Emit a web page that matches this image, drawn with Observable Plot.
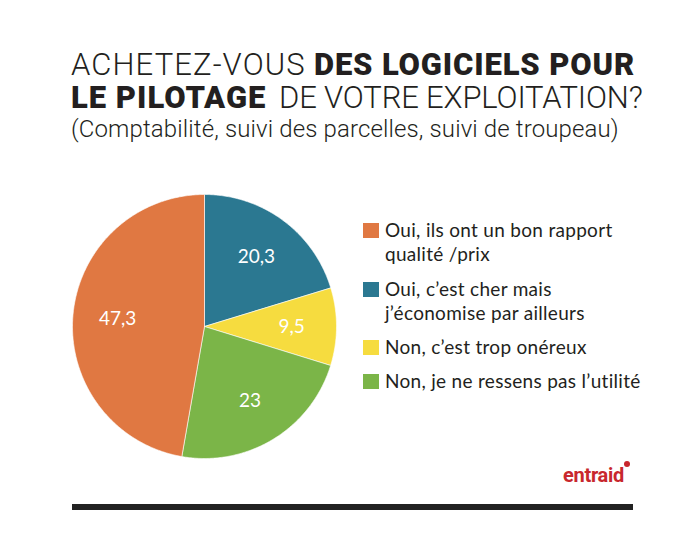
<!DOCTYPE html>
<html>
<head>
<meta charset="utf-8">
<script src="https://cdn.jsdelivr.net/npm/d3@7"></script>
<script src="https://cdn.jsdelivr.net/npm/@observablehq/plot@0.6"></script>
<style>
  html, body { margin: 0; padding: 0; background: #fff; }
  #page { position: relative; width: 700px; height: 534px; background: #fff; overflow: hidden; color: #231f20; }
  .abs { position: absolute; white-space: nowrap; }
  .tl { font-family: Roboto, sans-serif; font-size: 31px; line-height: 31px; font-weight: 300; }
  .tb { font-family: Roboto, sans-serif; font-size: 31px; line-height: 31px; font-weight: 900; }
  .sub { font-family: Roboto, sans-serif; font-size: 24px; line-height: 24px; font-weight: 300; letter-spacing: 0.13px; }
  .leg { font-family: Lato, sans-serif; font-size: 19px; line-height: 24px; letter-spacing: 0.3px; color: #231f20; }
  .sw { position: absolute; width: 16px; height: 15px; }
  .logo { font-family: Roboto, sans-serif; font-weight: 700; font-size: 20px; line-height: 20px; color: #c8272d; letter-spacing: -0.3px; }
</style>
</head>
<body>
<div id="page"></div>
<script>
// ---- data ----
const titleLine1Light = "ACHETEZ-VOUS";
const titleLine1Bold = "DES LOGICIELS POUR";
const titleLine2Bold = "LE PILOTAGE";
const titleLine2Light = "DE VOTRE EXPLOITATION?";
const subtitle = "(Comptabilité, suivi des parcelles, suivi de troupeau)";
const categories = [
  ["Oui, ils ont un bon rapport", "qualité /prix"],
  ["Oui, c’est cher mais", "j’économise par ailleurs"],
  ["Non, c’est trop onéreux"],
  ["Non, je ne ressens pas l’utilité"]
];
const values = [47.3, 20.3, 9.5, 23];
const colors = ["#e07842", "#2b7891", "#f6dc3f", "#7bb548"];
// clockwise drawing order from 12 o'clock
const pieOrder = [1, 2, 3, 0];
const logoText = "entraid";

const page = document.getElementById("page");
function add(html, cls, left, top, extra) {
  const d = document.createElement("div");
  d.className = "abs " + cls;
  d.style.left = left + "px";
  d.style.top = top + "px";
  if (extra) Object.assign(d.style, extra);
  d.innerHTML = html;
  page.appendChild(d);
  return d;
}
add(titleLine1Light, "tl", 71, 49, {letterSpacing: "1.1px"});
add(titleLine1Bold, "tb", 314, 49, {letterSpacing: "0.85px"});
add(titleLine2Bold, "tb", 71, 82, {letterSpacing: "1.0px"});
add(titleLine2Light, "tl", 279, 82, {letterSpacing: "-0.15px"});
add(subtitle, "sub", 71, 117);

// ---- pie geometry from data ----
const pie = d3.pie().sort(null).value(i => values[i]).startAngle(0).endAngle(2 * Math.PI);
const arcs = pie(pieOrder);
const marks = [];
arcs.forEach(a => {
  const i = a.data;
  const pts = [{x: 0, y: 0}];
  const n = Math.max(8, Math.ceil((a.endAngle - a.startAngle) / 0.01));
  for (let k = 0; k <= n; k++) {
    const t = a.startAngle + (a.endAngle - a.startAngle) * k / n;
    pts.push({x: Math.sin(t), y: Math.cos(t)});
  }
  pts.push({x: 0, y: 0});
  marks.push(Plot.line(pts, {x: "x", y: "y", fill: colors[i], stroke: "#fff", strokeWidth: 0.6, curve: "linear"}));
});
const labels = arcs.map(a => {
  const m = (a.startAngle + a.endAngle) / 2;
  const r = 0.66;
  return {x: r * Math.sin(m), y: r * Math.cos(m), text: String(values[a.data]).replace(".", ",")};
});
marks.push(Plot.text(labels, {x: "x", y: "y", text: "text", fill: "#fff", fontSize: 19, fontFamily: "Lato, sans-serif", textAnchor: "middle"}));

const svg = Plot.plot({
  width: 270, height: 270, margin: 3,
  x: {domain: [-1, 1], axis: null},
  y: {domain: [-1, 1], axis: null},
  marks
});
svg.style.position = "absolute";
svg.style.left = "69px";
svg.style.top = "191px";
svg.style.background = "transparent";
page.appendChild(svg);

// ---- legend ----
const legTops = [218, 277, 335, 369];
categories.forEach((lines, i) => {
  const sw = document.createElement("div");
  sw.className = "sw";
  sw.style.left = "363px";
  sw.style.top = (legTops[i] + 5) + "px";
  sw.style.background = colors[i];
  page.appendChild(sw);
  add(lines.join("<br>"), "leg", 385, legTops[i]);
});

// ---- logo & bar ----
add(logoText + '<span style="position:absolute;left:61px;top:-4px;width:6px;height:6px;border-radius:50%;background:#c8272d;"></span>', "logo", 563, 465);
const bar = document.createElement("div");
bar.className = "abs";
bar.style.cssText = "position:absolute;left:72px;top:504px;width:561px;height:6px;background:#222;";
page.appendChild(bar);
</script>
</body>
</html>
